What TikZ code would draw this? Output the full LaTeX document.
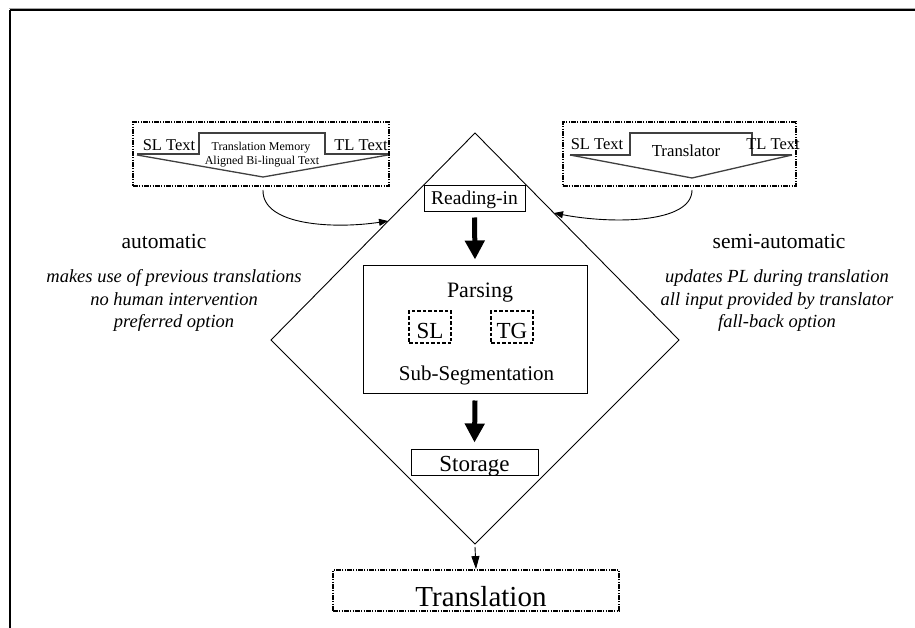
\documentclass[tikz,border=0pt]{standalone}
\usepackage{fontspec}
\setmainfont{Liberation Serif}
\usetikzlibrary{arrows.meta}
\newcommand{\fsz}[1]{\fontsize{#1}{#1}\selectfont}
\tikzset{
  plain/.style={draw=black, line width=0.9pt},
  boxnode/.style={draw=black, line width=1pt, inner sep=0pt, anchor=center},
  dashdot/.style={draw=black, line width=1.8pt,
    dash pattern=on 5pt off 1.2pt on 1.2pt off 1.2pt on 1.2pt off 1.2pt},
  smalldash/.style={draw=black, line width=1.4pt, dash pattern=on 3.5pt off 2pt},
  tabline/.style={draw=black!75, line width=1.3pt},
  txt/.style={inner sep=0pt, anchor=base},
  bigarrow/.style={line width=5pt, -{Triangle[width=19pt,length=19pt]}},
  thinarrow/.style={line width=0.9pt, -{Triangle[width=7pt,length=9pt]}},
  droparrow/.style={line width=0.9pt, -{Triangle[width=8pt,length=13pt]}},
}
\begin{document}
\begin{tikzpicture}[x=1pt,y=-1pt]
\useasboundingbox (0,0) rectangle (915,628);
\fill[white] (0,0) rectangle (915,628);

% outer frame (top and left edges only)
\draw[black!35, line width=1pt] (9,8.3) -- (915,8.3);
\draw[black, line width=2pt] (10,10) -- (915,10);
\draw[black, line width=2pt] (10,10) -- (10,628);

% left input: translation memory
\node[dashdot, minimum width=256pt, minimum height=64pt, inner sep=0pt] (tmbox) at (261,154) {};
\draw[tabline] (137,154) -- (199,154) -- (199,133) -- (325,133) -- (325,154) -- (388,154);
\draw[tabline] (137,155) -- (263,177) -- (388,155);
\node[txt] (tmsl) at (169,151) {\fsz{16.5}SL Text};
\node[txt] (tmtl) at (361,151) {\fsz{16.5}TL Text};
\node[txt] (tmmem) at (261,151) {\fsz{12}Translation Memory};
\node[txt] (tmalign) at (262,165) {\fsz{12}Aligned Bi-lingual Text};

% right input: translator
\node[dashdot, minimum width=233pt, minimum height=64pt, inner sep=0pt] (trbox) at (679.5,154) {};
\draw[tabline] (570,155) -- (630,155) -- (630,133) -- (752,133) -- (752,155) -- (792,155);
\draw[tabline] (570,155) -- (692,178) -- (792,155);
\node[txt] (trsl) at (597,150) {\fsz{16.5}SL Text};
\node[txt] (trtl) at (773,150) {\fsz{16.5}TL Text};
\node[txt] (trname) at (686,157) {\fsz{16.8}Translator};

% central diamond
\coordinate (dtop) at (475,133);
\coordinate (dleft) at (271,340);
\coordinate (dright) at (679,340);
\coordinate (dbot) at (475,544);
\draw[plain] (dtop) -- (dleft) -- (dbot) -- (dright) -- cycle;

% processing steps
\node[boxnode, minimum width=101pt, minimum height=26pt] (read) at (474.5,199) {};
\node[txt] (readtxt) at (474.5,205) {\fsz{19.5}Reading-in};

\node[boxnode, minimum width=224pt, minimum height=127pt] (parse) at (475,329.5) {};
\node[txt] (parsetxt) at (480,297) {\fsz{22}Parsing};
\node[smalldash, minimum width=42pt, minimum height=32pt, inner sep=0pt] (slbox) at (430,327) {};
\node[txt] (sltxt) at (430,338) {\fsz{23}SL};
\node[smalldash, minimum width=42pt, minimum height=32pt, inner sep=0pt] (tgbox) at (512,327) {};
\node[txt] (tgtxt) at (512,338) {\fsz{23}TG};
\node[txt] (subseg) at (476.5,380) {\fsz{21}Sub-Segmentation};

\node[boxnode, minimum width=127pt, minimum height=26pt] (store) at (474.5,462) {};
\node[txt] (storetxt) at (474.5,471) {\fsz{23}Storage};

\node[dashdot, minimum width=286pt, minimum height=41pt, inner sep=0pt] (trans) at (476,590.5) {};
\node[txt] (transtxt) at (481,606) {\fsz{29}Translation};

% flow arrows
\draw[bigarrow] ([yshift=-5pt]read.south) -- ([yshift=6pt]parse.north);
\draw[bigarrow] ([yshift=-7pt]parse.south) -- ([yshift=6pt]store.north);
\draw[droparrow] ([yshift=-3pt]dbot) -- (trans.north);

% inputs feeding the diamond
\coordinate (tmfoot) at (263,190);
\coordinate (tmin) at (388,221);
\coordinate (trfoot) at (692,190);
\coordinate (trin) at (554,213);
\draw[thinarrow] (tmfoot) .. controls (262,226) and (335,229) .. (tmin);
\draw[thinarrow] (trfoot) .. controls (692,224) and (610,224) .. (trin);

% mode descriptions
\node[txt] (auto) at (164,249) {\fsz{21.5}automatic};
\node[txt] (auto1) at (174,283) {\fsz{18.5}\itshape makes use of previous translations};
\node[txt] (auto2) at (174,305) {\fsz{18.5}\itshape no human intervention};
\node[txt] (auto3) at (174,327) {\fsz{18.5}\itshape preferred option};

\node[txt] (semi) at (779,249) {\fsz{21.5}semi-automatic};
\node[txt] (semi1) at (777,283) {\fsz{18.5}\itshape updates PL during translation};
\node[txt] (semi2) at (777,305) {\fsz{18.5}\itshape all input provided by translator};
\node[txt] (semi3) at (777,327) {\fsz{18.5}\itshape fall-back option};
\end{tikzpicture}
\end{document}
